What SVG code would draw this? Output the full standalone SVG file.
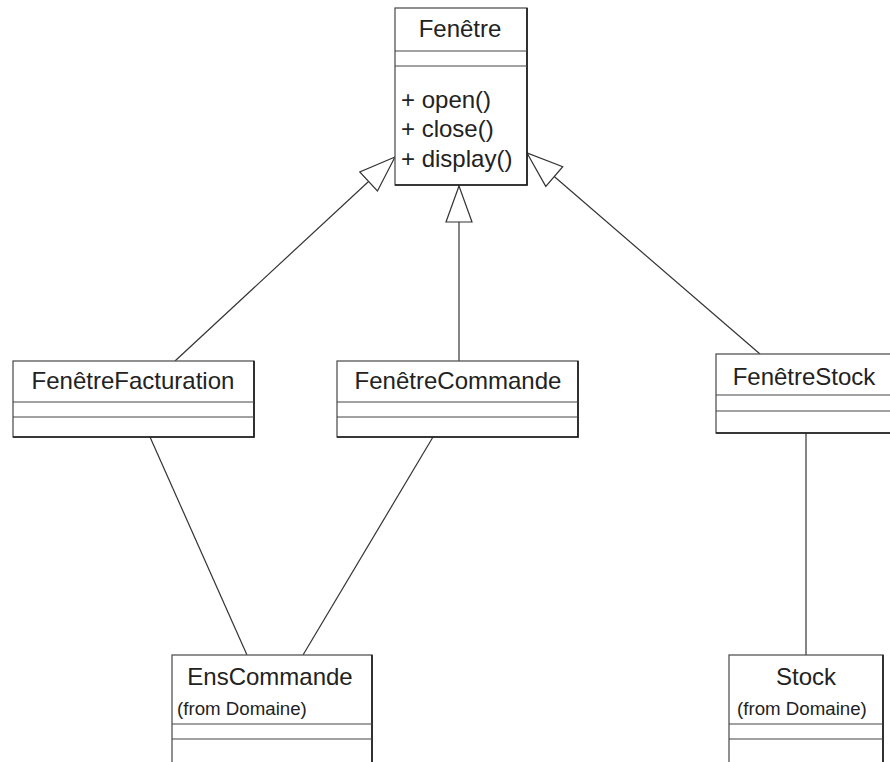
<svg xmlns="http://www.w3.org/2000/svg" width="890" height="762" viewBox="0 0 890 762">
  <style>
    .box { fill: #ffffff; stroke: #555555; stroke-width: 1.3; }
    .edge { fill: none; stroke: #1a1a1a; stroke-width: 1.6; }
    .sep { stroke: #444444; stroke-width: 1.2; }
    .name { font-family: "Liberation Sans", Arial, Helvetica, sans-serif; font-size: 24px; fill: #222222; text-anchor: middle; }
    .op { font-family: "Liberation Sans", Arial, Helvetica, sans-serif; font-size: 24px; fill: #222222; }
    .pkg { font-family: "Liberation Sans", Arial, Helvetica, sans-serif; font-size: 18.7px; fill: #222222; }
    .link { fill: none; stroke: #333333; stroke-width: 1.2; }
    .gen { fill: none; stroke: #333333; stroke-width: 1.2; marker-end: url(#hollow); }
  </style>
  <defs>
    <!-- hollow triangle for generalization; tip sits on the line end -->
    <marker id="hollow" markerUnits="userSpaceOnUse" viewBox="-38 -16 40 32" refX="0" refY="0" markerWidth="40" markerHeight="32" orient="auto" overflow="visible">
      <path d="M0,0 L-36,-13 L-36,13 Z" fill="#ffffff" stroke="#333333" stroke-width="1.2"/>
    </marker>
  </defs>

  <rect width="890" height="762" fill="#ffffff"/>

  <g id="connectors">
    <line class="gen" x1="175" y1="361" x2="395" y2="157"/>
    <line class="gen" x1="459" y1="361" x2="459" y2="186"/>
    <line class="gen" x1="760" y1="354" x2="527" y2="153"/>
    <line class="link" x1="150" y1="437" x2="247" y2="655"/>
    <line class="link" x1="433" y1="437" x2="303" y2="655"/>
    <line class="link" x1="806" y1="433" x2="806" y2="655"/>
  </g>

  <g id="fenetre">
    <rect class="box" x="395" y="8" width="132" height="177"/>
    <path class="edge" d="M527,8 V185 H395"/>
    <line class="sep" x1="395" y1="51" x2="527" y2="51"/>
    <line class="sep" x1="395" y1="66" x2="527" y2="66"/>
    <text class="name" x="460" y="37">Fenêtre</text>
    <text class="op" x="401" y="108">+ open()</text>
    <text class="op" x="401" y="137">+ close()</text>
    <text class="op" x="401" y="167">+ display()</text>
  </g>

  <g id="fenetre-facturation">
    <rect class="box" x="13" y="361" width="241" height="76"/>
    <path class="edge" d="M254,361 V437 H13"/>
    <line class="sep" x1="13" y1="402" x2="254" y2="402"/>
    <line class="sep" x1="13" y1="417" x2="254" y2="417"/>
    <text class="name" x="133" y="389">FenêtreFacturation</text>
  </g>

  <g id="fenetre-commande">
    <rect class="box" x="337" y="361" width="241" height="76"/>
    <path class="edge" d="M578,361 V437 H337"/>
    <line class="sep" x1="337" y1="402" x2="578" y2="402"/>
    <line class="sep" x1="337" y1="417" x2="578" y2="417"/>
    <text class="name" x="458" y="389">FenêtreCommande</text>
  </g>

  <g id="fenetre-stock">
    <rect class="box" x="716" y="354" width="176" height="79"/>
    <path class="edge" d="M892,433 H716"/>
    <line class="sep" x1="716" y1="395" x2="892" y2="395"/>
    <line class="sep" x1="716" y1="411" x2="892" y2="411"/>
    <text class="name" x="804" y="385">FenêtreStock</text>
  </g>

  <g id="ens-commande">
    <rect class="box" x="172" y="655" width="200" height="120"/>
    <line class="edge" x1="372" y1="655" x2="372" y2="775"/>
    <line class="sep" x1="172" y1="724" x2="372" y2="724"/>
    <line class="sep" x1="172" y1="739" x2="372" y2="739"/>
    <text class="name" x="270" y="685">EnsCommande</text>
    <text class="pkg" x="177" y="715">(from Domaine)</text>
  </g>

  <g id="stock">
    <rect class="box" x="729" y="655" width="154" height="120"/>
    <line class="edge" x1="883" y1="655" x2="883" y2="775"/>
    <line class="sep" x1="729" y1="724" x2="883" y2="724"/>
    <line class="sep" x1="729" y1="739" x2="883" y2="739"/>
    <text class="name" x="806" y="685">Stock</text>
    <text class="pkg" x="737" y="715">(from Domaine)</text>
  </g>
</svg>
